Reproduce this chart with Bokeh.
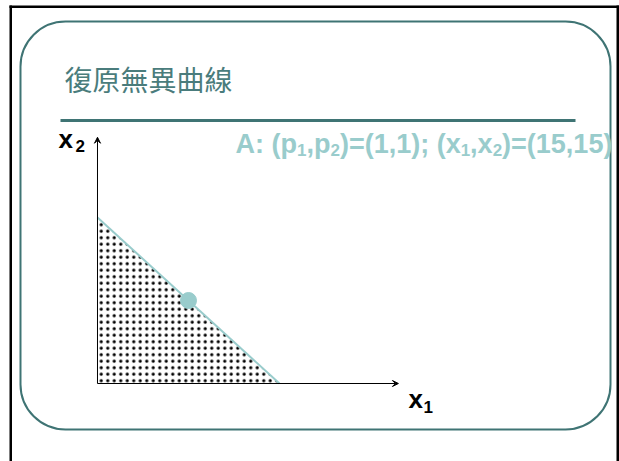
from bokeh.plotting import figure
from bokeh.models import Range1d, Label, BoxAnnotation, Arrow, VeeHead
from bokeh.embed import file_html
from bokeh.resources import INLINE

# ---- data ----
prices = [1, 1]            # (p1, p2)
bundle_A = [15, 15]        # (x1, x2)
budget_x = [0, 30]         # budget line end points
budget_y = [30, 0]
region_x = [0, 0, 30]      # affordable set
region_y = [0, 30, 0]
axis_x_max = 49.6
axis_y_max = 44.5
title_text = "復原無異曲線"
note_parts = ["A: (p", "1", ",p", "2", ")=(1,1); (x", "1", ",x", "2", ")=(15,15)"]
note_is_sub = [False, True, False, True, False, True, False, True, False]

W, H = 619, 461
TEAL = "#99cccc"
DARK = "#3f7474"
LABEL_SHIFT = 10  # labels render lower than their nominal baseline

p = figure(width=W, height=H, output_backend="svg", toolbar_location=None,
           x_range=Range1d(-15.989, 86.044), y_range=Range1d(-14.096, 69.217),
           x_axis_type=None, y_axis_type=None, min_border=0,
           outline_line_color=None, background_fill_color="white",
           border_fill_color="white")
p.grid.visible = False

def sy(Y):  # image y (from top) -> screen y (from bottom)
    return H - Y

def box(l, r, t, b, **kw):
    return BoxAnnotation(left=l, right=r, top=sy(t), bottom=sy(b),
                         left_units="screen", right_units="screen",
                         bottom_units="screen", top_units="screen", **kw)

# outer black frame
p.add_layout(box(9, 11.5, 5, 461, fill_color="black", fill_alpha=1, line_alpha=0))
p.add_layout(box(9, 618.5, 5, 7.5, fill_color="black", fill_alpha=1, line_alpha=0))
p.add_layout(box(616, 618.5, 5, 461, fill_color="black", fill_alpha=1, line_alpha=0))
# rounded slide border
p.add_layout(box(20, 610, 21, 429, fill_alpha=0, line_color=DARK, line_alpha=1,
                 line_width=2, border_radius=45))
# title rule
p.add_layout(box(60, 575, 118.5, 121.5, fill_color=DARK, fill_alpha=1, line_alpha=0))

def label(X, Y, t, font, size, color, bold=False):
    p.add_layout(Label(x=X, y=sy(Y - LABEL_SHIFT), x_units="screen", y_units="screen",
                       text=t, text_font=font, text_font_size=size,
                       text_font_style="bold" if bold else "normal",
                       text_color=color, text_baseline="alphabetic"))

label(64, 88, title_text, "Noto Sans CJK TC", "28px", "#4a7c7c")

# affordable region with dot pattern
p.patch(region_x, region_y, fill_alpha=0, line_alpha=0,
        hatch_pattern="dot", hatch_color="black", hatch_scale=6.5, hatch_weight=0.5)
# axes
for xe, ye in [(0, axis_y_max), (axis_x_max, 0)]:
    p.add_layout(Arrow(x_start=0, y_start=0, x_end=xe, y_end=ye,
                       line_color="black", line_width=1,
                       end=VeeHead(size=6, fill_color="black", line_color="black")))
# budget line and point A
p.line(budget_x, budget_y, line_color=TEAL, line_width=2)
p.scatter([bundle_A[0]], [bundle_A[1]], size=16, fill_color=TEAL, line_color=TEAL)

# axis labels
for X, Y, t, fs in [(58, 148, "x", "26px"), (75, 155, "2", "17px"),
                    (408, 408, "x", "26px"), (423, 416, "1", "17px")]:
    label(X, Y, t, "Liberation Sans", fs, "black", bold=True)

# note text with subscripts
widths = {"A": 722, ":": 333, " ": 278, "(": 333, ")": 333, "p": 611, "x": 556,
          ",": 278, "=": 584, ";": 333}
MAIN, SUB = 27, 17
cx = 235.0
for part, is_sub in zip(note_parts, note_is_sub):
    fs = SUB if is_sub else MAIN
    base = 159 if is_sub else 153
    label(cx, base, part, "Liberation Sans", f"{fs}px", TEAL, bold=True)
    cx += sum(widths.get(c, 556) for c in part) * fs / 1000.0

open("out.html", "w").write(file_html(p, INLINE))
